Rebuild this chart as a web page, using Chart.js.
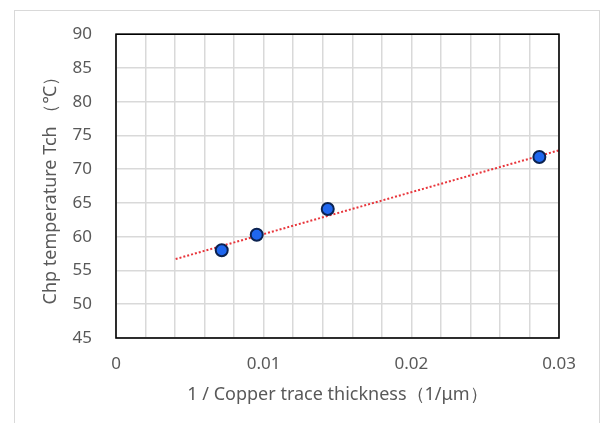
<!DOCTYPE html>
<html lang="en">
<head>
  <meta charset="UTF-8">
  <title>Chip temperature vs copper thickness</title>
  <script src="https://cdn.jsdelivr.net/npm/chart.js"></script>
  <style>
    body {
      margin: 0;
      background: #ffffff;
      font-family: 'Noto Sans', sans-serif;
    }

    .frame {
      position: absolute;
      left: 14px;
      top: 10px;
      width: 584px;
      height: 430px;
      border: 1px solid #d9d9d9;
    }

    .wrap {
      position: absolute;
      left: 0;
      top: 0;
      width: 606px;
      height: 423px;
    }
  </style>
</head>
<body>

<div class="frame"></div>
<div class="wrap">
  <canvas id="grafico"></canvas>
</div>

<script>
  // 1 / thickness (1/um) and measured chip temperature (C)
  const invThickness = [0.00716, 0.00953, 0.01434, 0.02867];
  const chipTemp = [58.0, 60.3, 64.1, 71.8];

  // linear trend line end points
  const trendX = [0.00404, 0.03];
  const trendY = [56.7, 72.8];

  const yTicks = [45, 50, 55, 60, 65, 70, 75, 80, 85, 90];
  const xTickLabels = ['0', '0.01', '0.02', '0.03'];

  const pontos = invThickness.map((x, i) => ({ x: x, y: chipTemp[i] }));
  const tendencia = trendX.map((x, i) => ({ x: x, y: trendY[i] }));

  // black frame round the plot area
  const plotBorder = {
    id: 'plotBorder',
    afterDatasetsDraw(chart) {
      const a = chart.chartArea;
      const ctx = chart.ctx;
      ctx.save();
      ctx.strokeStyle = '#000000';
      ctx.lineWidth = 1.6;
      ctx.strokeRect(a.left, a.top, a.right - a.left, a.bottom - a.top);
      ctx.restore();
    }
  };

  const ctx = document.getElementById('grafico').getContext('2d');
  new Chart(ctx, {
    type: 'scatter',
    data: {
      datasets: [
        {
          label: 'trend',
          type: 'line',
          data: tendencia,
          borderColor: '#e8353b',
          borderWidth: 2,
          borderDash: [2, 2],
          pointRadius: 0,
          fill: false,
          order: 2
        },
        {
          label: 'Tch',
          data: pontos,
          backgroundColor: '#1f66ee',
          borderColor: '#0b2250',
          borderWidth: 2,
          pointRadius: 6,
          order: 1
        }
      ]
    },
    options: {
      responsive: true,
      maintainAspectRatio: false,
      animation: false,
      layout: { padding: { top: 30, right: 47, left: 0, bottom: 0 } },
      plugins: {
        legend: { display: false },
        tooltip: { enabled: false }
      },
      scales: {
        x: {
          type: 'linear',
          min: 0,
          max: 0.03,
          afterFit(scale) { scale.height = 85; },
          ticks: {
            stepSize: 0.002,
            color: '#595959',
            font: { family: 'Noto Sans', size: 17 },
            padding: 16,
            maxRotation: 0,
            autoSkip: false,
            callback(v) {
              const k = Math.round(v * 100);
              if (Math.abs(v * 100 - k) < 1e-6) return xTickLabels[k];
              return '';
            }
          },
          grid: { color: '#d9d9d9', lineWidth: 1.5, drawTicks: false },
          border: { display: false },
          title: {
            display: true,
            text: '1 / Copper trace thickness（1/μm）',
            color: '#595959',
            font: { family: 'Noto Sans', size: 18 },
            padding: { top: 0, bottom: 17 }
          }
        },
        y: {
          min: 45,
          max: 90,
          afterFit(scale) { scale.width = 116; },
          afterBuildTicks(scale) { scale.ticks = yTicks.map(v => ({ value: v })); },
          ticks: {
            color: '#595959',
            font: { family: 'Noto Sans', size: 17 },
            padding: 24
          },
          grid: { color: '#d9d9d9', lineWidth: 1.5, drawTicks: false },
          border: { display: false },
          title: {
            display: true,
            text: 'Chp temperature Tch （℃）',
            color: '#595959',
            font: { family: 'Noto Sans', size: 18 },
            padding: { top: 40, bottom: 0 }
          }
        }
      }
    },
    plugins: [plotBorder]
  });
</script>

</body>
</html>
